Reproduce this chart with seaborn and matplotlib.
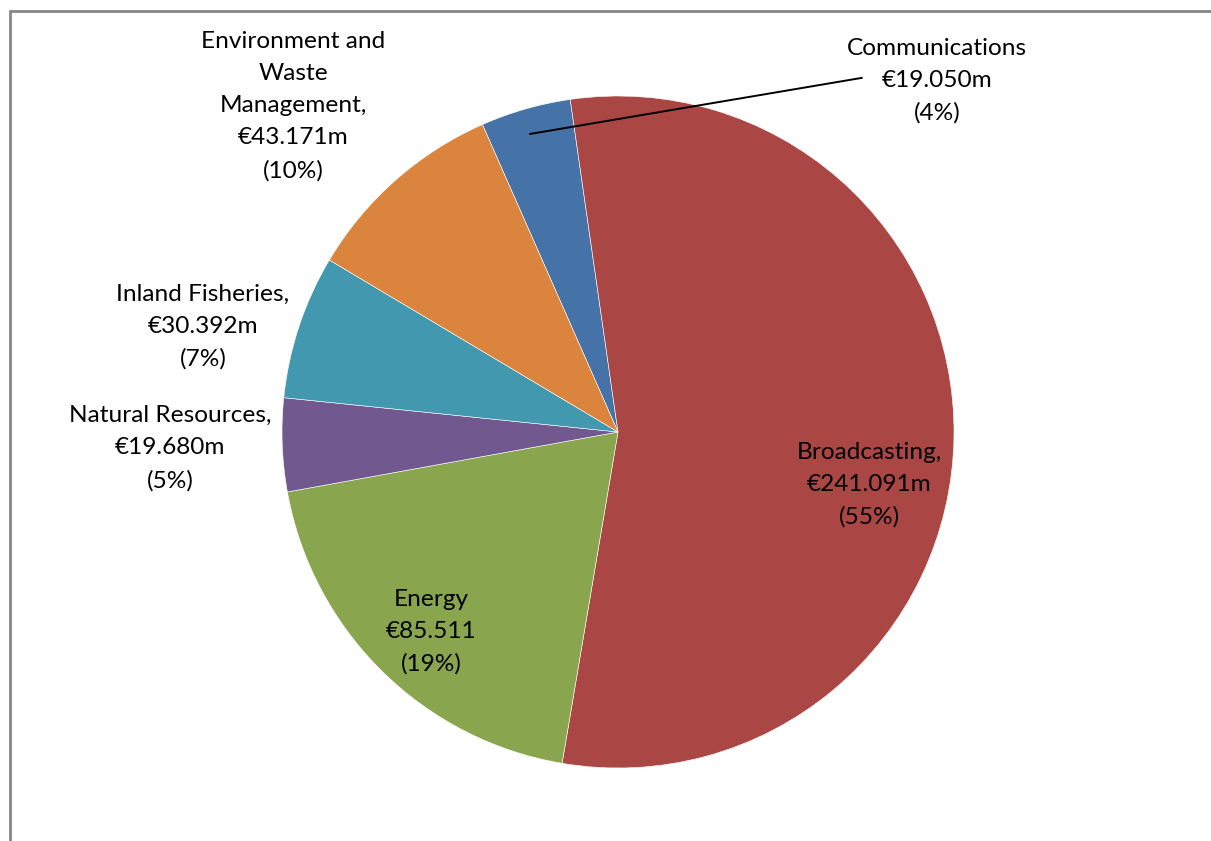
import matplotlib
matplotlib.use("Agg")
import matplotlib.pyplot as plt
import seaborn as sns
from matplotlib.patches import Rectangle

sns.set_style("white")
plt.rcParams['font.family'] = ['Lato', 'DejaVu Sans']

# data, in Excel's series order (clockwise)
categories = ["Communications", "Broadcasting", "Energy", "Natural Resources",
              "Inland Fisheries", "Environment and Waste Management"]
values = [19.050, 241.091, 85.511, 19.680, 30.392, 43.171]
label_texts = ["Communications\n€19.050m\n(4%)",
               "Broadcasting,\n€241.091m\n(55%)",
               "Energy\n€85.511\n(19%)",
               "Natural Resources,\n€19.680m\n(5%)",
               "Inland Fisheries,\n€30.392m\n(7%)",
               "Environment and\nWaste\nManagement,\n€43.171m\n(10%)"]
colors = ["#4572A7", "#AA4643", "#89A54E", "#71588F", "#4198AF", "#DB843D"]

# label centres in pie-radius units
label_pos = [(0.949, 1.045), (0.747, -0.158), (-0.557, -0.595),
             (-1.333, -0.048), (-1.235, 0.3125), (-0.967, 0.970)]

W, H = 1211, 841
fig = plt.figure(figsize=(W / 100, H / 100), dpi=100)
cx, cy, r = 618, 432, 336
ax = fig.add_axes([(cx - r) / W, (H - cy - r) / H, 2 * r / W, 2 * r / H])

ax.pie(values, colors=colors, startangle=113.8, counterclock=False,
       wedgeprops=dict(edgecolor="white", linewidth=0.4))
ax.set_xlim(-1, 1)
ax.set_ylim(-1, 1)
ax.set_aspect("equal")
ax.axis("off")

for txt, (x, y) in zip(label_texts, label_pos):
    ax.text(x, y, txt, ha="center", va="center", fontsize=17.6,
            linespacing=1.65, color="black")

# leader line for Communications
ax.plot([-0.262, 0.726], [0.887, 1.054], color="black", lw=1.4, clip_on=False)

# chart area border (cut at right / bottom)
fig.patches.append(Rectangle((10 / W, -0.5), 1.5, 1.5 - 11 / H,
                             transform=fig.transFigure, fill=False,
                             edgecolor="#868686", lw=2))

fig.savefig("out.png", dpi=100)
